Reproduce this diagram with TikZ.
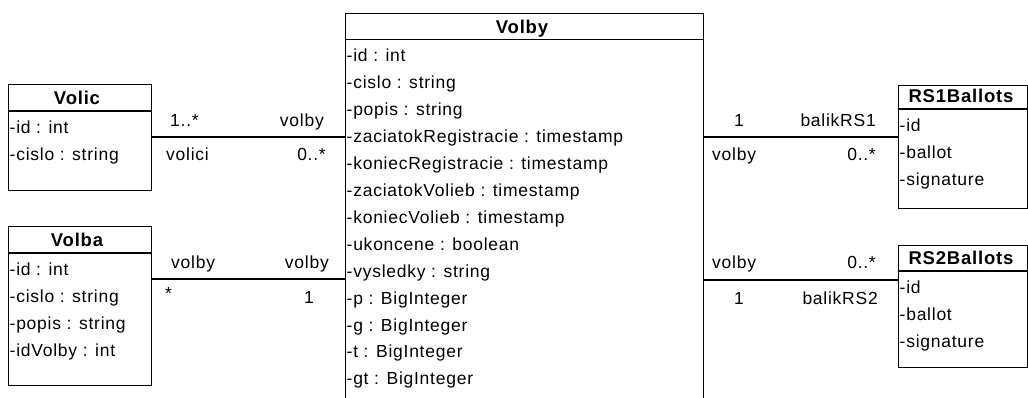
\documentclass[tikz,border=0pt]{standalone}
\usepackage{fontspec}
\setmainfont{Liberation Sans}[LetterSpace=4.3]
\begin{document}
\begin{tikzpicture}[x=1pt,y=-1pt,
  classbox/.style={draw=black,line width=1.3pt,fill=white,inner sep=0pt,anchor=north west},
  rule/.style={draw=black,line width=1.3pt},
  assoc/.style={draw=black,line width=1.3pt},
  ctitle/.style={font=\fontsize{18.5}{20}\selectfont\bfseries,inner sep=0pt,anchor=base},
  attr/.style={font=\fontsize{17.5}{20}\selectfont,inner sep=0pt,anchor=base west},
  lblL/.style={font=\fontsize{17.5}{20}\selectfont,inner sep=0pt,anchor=base west},
  lblR/.style={font=\fontsize{17.5}{20}\selectfont,inner sep=0pt,anchor=base east}]
\clip (0,0) rectangle (1028,398);
\fill[white] (0,0) rectangle (1028,398);

% ---- class Volby (centre) ----
\node[classbox,minimum width=358pt,minimum height=420pt] (volby) at (345,13) {};
\node[ctitle] (volbyT) at (522,33.5) {Volby};
\draw[rule] (volby.west |- 0,39.5) -- (volby.east |- 0,39.5);
\foreach \t [count=\i from 0] in {
  -id : int,
  -cislo : string,
  -popis : string,
  -zaciatokRegistracie : timestamp,
  -koniecRegistracie : timestamp,
  -zaciatokVolieb : timestamp,
  -koniecVolieb : timestamp,
  -ukoncene : boolean,
  -vysledky : string,
  -p : BigInteger,
  -g : BigInteger,
  -t : BigInteger,
  -gt : BigInteger}
  \node[attr] (volbyA\i) at (346.5,62+26.9*\i) {\t};

% ---- class Volic ----
\node[classbox,minimum width=143pt,minimum height=106pt] (volic) at (8,84) {};
\node[ctitle] (volicT) at (77,105) {Volic};
\draw[rule] (volic.west |- 0,111) -- (volic.east |- 0,111);
\node[attr] (volicA0) at (9.5,133.5) {-id : int};
\node[attr] (volicA1) at (9.5,160.4) {-cislo : string};

% ---- class Volba ----
\node[classbox,minimum width=143pt,minimum height=159pt] (volba) at (8,226) {};
\node[ctitle] (volbaT) at (77,247) {Volba};
\draw[rule] (volba.west |- 0,253) -- (volba.east |- 0,253);
\node[attr] (volbaA0) at (9.5,275.5) {-id : int};
\node[attr] (volbaA1) at (9.5,302.4) {-cislo : string};
\node[attr] (volbaA2) at (9.5,329.3) {-popis : string};
\node[attr] (volbaA3) at (9.5,356.2) {-idVolby : int};

% ---- class RS1Ballots ----
\node[classbox,minimum width=129pt,minimum height=123pt] (rs1) at (898,85) {};
\node[ctitle] (rs1T) at (961,103) {RS1Ballots};
\draw[rule] (rs1.west |- 0,109) -- (rs1.east |- 0,109);
\node[attr] (rs1A0) at (899.5,131.5) {-id};
\node[attr] (rs1A1) at (899.5,158.4) {-ballot};
\node[attr] (rs1A2) at (899.5,185.3) {-signature};

% ---- class RS2Ballots ----
\node[classbox,minimum width=129pt,minimum height=122pt] (rs2) at (898,245) {};
\node[ctitle] (rs2T) at (961,265) {RS2Ballots};
\draw[rule] (rs2.west |- 0,271) -- (rs2.east |- 0,271);
\node[attr] (rs2A0) at (899.5,293.5) {-id};
\node[attr] (rs2A1) at (899.5,320.4) {-ballot};
\node[attr] (rs2A2) at (899.5,347.3) {-signature};

% ---- associations ----
\draw[assoc] (volic.east |- 0,137) -- (volby.west |- 0,137);
\node[lblL] (l1a) at (170,126.5) {1..*};
\node[lblR] (l1b) at (324,126.5) {volby};
\node[lblL] (l1c) at (166,161) {volici};
\node[lblR] (l1d) at (326,161) {0..*};

\draw[assoc] (volba.east |- 0,279) -- (volby.west |- 0,279);
\node[lblL] (l2a) at (171,268) {volby};
\node[lblR] (l2b) at (329,268) {volby};
\node[lblL] (l2c) at (165,299) {*};
\node[lblR] (l2d) at (314,303) {1};

\draw[assoc] (volby.east |- 0,137) -- (rs1.west |- 0,137);
\node[lblL] (l3a) at (734,126.5) {1};
\node[lblR] (l3b) at (876,126.5) {balikRS1};
\node[lblL] (l3c) at (712,161) {volby};
\node[lblR] (l3d) at (876,161) {0..*};

\draw[assoc] (volby.east |- 0,280) -- (rs2.west |- 0,280);
\node[lblL] (l4a) at (712,269) {volby};
\node[lblR] (l4b) at (876,269) {0..*};
\node[lblL] (l4c) at (734,304) {1};
\node[lblR] (l4d) at (878,304) {balikRS2};
\end{tikzpicture}
\end{document}
